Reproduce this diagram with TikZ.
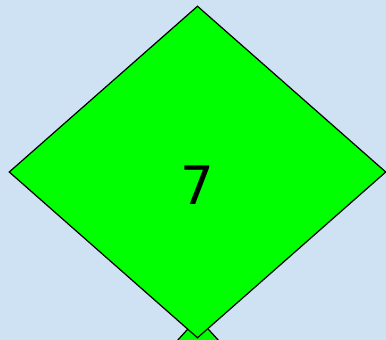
\documentclass[tikz,border=0pt]{standalone}
\usepackage{fontspec}
\setmainfont{DejaVu Sans}
\usetikzlibrary{shapes.geometric}
\definecolor{bgblue}{HTML}{CFE2F3}
\definecolor{leafgreen}{HTML}{00FF00}
\begin{document}
\begin{tikzpicture}[%
    x=1pt,y=-1pt,%
    leaf/.style={diamond,draw=black,fill=leafgreen,line width=1.2pt,inner sep=0pt},%
    leaflabel/.style={font=\fontsize{53}{60}\selectfont,inner sep=0pt},%
]%
    \fill[bgblue] (0,0) rectangle (386,340);
    \useasboundingbox (0,0) rectangle (386,340);

    % next diamond, mostly hidden below
    \begin{scope}
        \clip (0,0) rectangle (386,340);
        \node[leaf,minimum width=300pt,minimum height=330pt,anchor=north] (d8) at (198,317) {};
    \end{scope}

    % main diamond
    \node[leaf,minimum width=377pt,minimum height=332pt] (d7) at (197.5,172) {};
    \node[leaflabel] (t7) at ([yshift=-13pt]d7.center) {7};
\end{tikzpicture}
\end{document}
